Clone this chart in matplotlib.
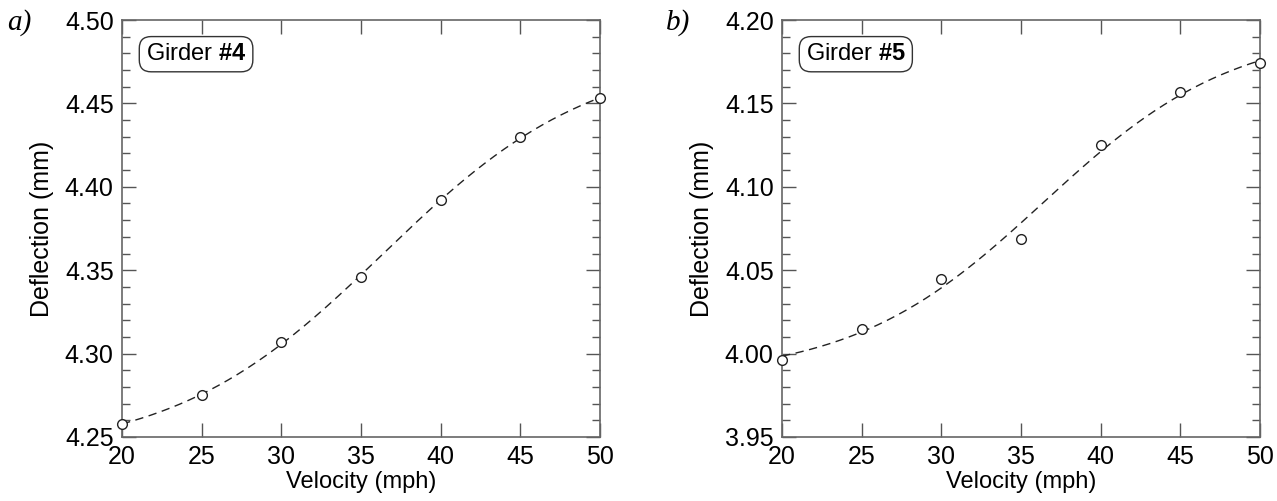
import numpy as np
import matplotlib
matplotlib.use("Agg")
import matplotlib.pyplot as plt
from matplotlib import font_manager
from matplotlib.ticker import MultipleLocator

# fonts: narrow sans if available
names = {f.name for f in font_manager.fontManager.ttflist}
sans = "Liberation Sans Narrow" if "Liberation Sans Narrow" in names else "Liberation Sans"
plt.rcParams["font.family"] = sans
plt.rcParams["mathtext.fontset"] = "custom"
plt.rcParams["mathtext.rm"] = sans
plt.rcParams["mathtext.bf"] = sans + ":bold"

# data
velocity = [20, 25, 30, 35, 40, 45, 50]
defl_g4 = [4.258, 4.275, 4.307, 4.346, 4.392, 4.430, 4.453]
defl_g5 = [3.996, 4.015, 4.045, 4.069, 4.125, 4.157, 4.174]

panels = [
    ("a)", "4", defl_g4, (4.25, 4.50)),
    ("b)", "5", defl_g5, (3.95, 4.20)),
]


def logistic_fit(x, y):
    # y = A + B / (1 + exp(-(x - c) / s)), grid over c, s, least squares for A, B
    x = np.asarray(x, float)
    y = np.asarray(y, float)
    best = None
    for c in np.linspace(25, 50, 126):
        for s in np.linspace(2, 15, 131):
            g = 1 / (1 + np.exp(-(x - c) / s))
            M = np.column_stack([np.ones_like(x), g])
            p, *_ = np.linalg.lstsq(M, y, rcond=None)
            err = np.sum((M @ p - y) ** 2)
            if best is None or err < best[0]:
                best = (err, c, s, p)
    _, c, s, p = best
    return lambda t: p[0] + p[1] / (1 + np.exp(-(t - c) / s))


fig = plt.figure(figsize=(12.77, 5.01), dpi=100)
lefts = [122 / 1277, 782 / 1277]
tag_x = [7 / 1277, 666 / 1277]
w = 478 / 1277
b = 1 - 437 / 501
h = 417 / 501

for (tag, num, y, ylim), left, tx in zip(panels, lefts, tag_x):
    ax = fig.add_axes([left, b, w, h])
    f = logistic_fit(velocity, y)
    xs = np.linspace(20, 50, 200)
    ax.plot(xs, f(xs), color="#222222", lw=1.0, dashes=(6, 4))
    ax.plot(velocity, y, "o", ms=7, mfc="white", mec="#222222", mew=1.0,
            clip_on=False, zorder=3)
    ax.set_xlim(20, 50)
    ax.set_ylim(*ylim)
    ax.xaxis.set_major_locator(MultipleLocator(5))
    ax.yaxis.set_major_locator(MultipleLocator(0.05))
    ax.yaxis.set_minor_locator(MultipleLocator(0.01))
    ax.yaxis.set_major_formatter(plt.FormatStrFormatter("%.2f"))
    ax.tick_params(which="both", direction="in", top=True, right=True,
                   color="#555555", labelsize=18)
    ax.tick_params(which="major", length=10, width=1)
    ax.tick_params(which="minor", length=6, width=1)
    ax.tick_params(axis="x", pad=6)
    ax.tick_params(axis="y", pad=6)
    for s in ax.spines.values():
        s.set_color("#666666")
        s.set_linewidth(1.2)
    ax.set_xlabel("Velocity (mph)", fontsize=17, labelpad=1)
    ax.set_ylabel("Deflection (mm)", fontsize=18, labelpad=8)
    ax.text(0.05, 0.918, "Girder $\\mathbf{\\#" + num + "}$", transform=ax.transAxes,
            fontsize=17, va="center", ha="left",
            bbox=dict(boxstyle="round,pad=0.28,rounding_size=0.5", fc="white",
                      ec="#333333", lw=1))
    fig.text(tx, 0.955, tag, fontsize=21, style="italic",
             family="Liberation Serif", va="center")

fig.savefig("out.png", dpi=100)
